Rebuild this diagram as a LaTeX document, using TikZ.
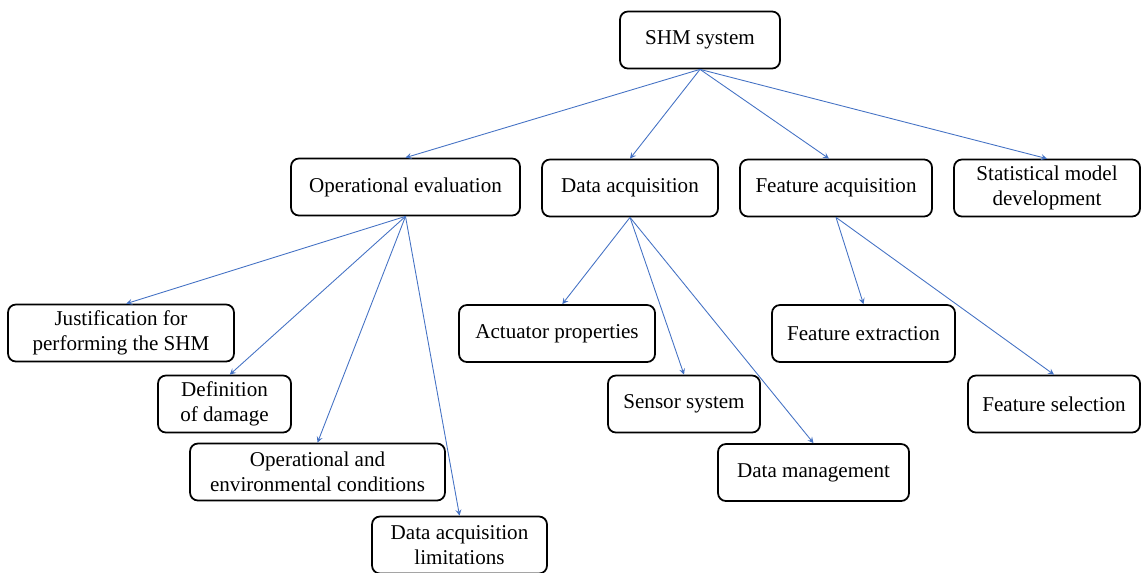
\documentclass[tikz,border=0pt,12pt]{standalone}
\usepackage{fontspec}
\setmainfont{Liberation Serif}
\usepackage{xcolor}
\usepackage{tikz}
\usetikzlibrary{shapes,arrows,positioning,calc}

\definecolor{linkblue}{RGB}{68,114,196}

\begin{document}
\begin{tikzpicture}[
  x=0.02cm, y=-0.02cm,
  box/.style={draw, rectangle, rounded corners=4.5pt, line width=1pt, align=center,
              inner sep=0pt, font=\fontsize{12}{14.5}\selectfont},
  top/.style={box, minimum height=1.14cm},
  ptr/.style={->, >=stealth, line width=0.5pt, linkblue}
]
\useasboundingbox (0,0) rectangle (1141,572);

% Root
\node[top, minimum width=3.2cm] (shm) at (700,40) {SHM system};

% Level 1
\node[top, minimum width=4.58cm] (opeval) at (405.5,187) {Operational evaluation};
\node[top, minimum width=3.52cm] (dataacq) at (630,188) {Data acquisition};
\node[top, minimum width=3.84cm] (featacq) at (836,188) {Feature acquisition};
\node[top, minimum width=3.72cm] (statmod) at (1047,188) {Statistical model\\development};

% Level 2 - operational evaluation
\node[top, minimum width=4.52cm] (justif) at (121,333) {Justification for\\performing the SHM};
\node[top, minimum width=2.66cm] (damage) at (224.5,404) {Definition\\of damage};
\node[top, minimum width=5.1cm] (openv) at (317.5,472) {Operational and\\environmental conditions};
\node[top, minimum width=3.5cm] (limits) at (459.5,545) {Data acquisition\\limitations};

% Level 2 - data acquisition
\node[top, minimum width=3.92cm] (actuator) at (557,333.5) {Actuator properties};
\node[top, minimum width=3.04cm] (sensor) at (684,404) {Sensor system};
\node[top, minimum width=3.82cm] (datamgmt) at (813.5,472.5) {Data management};

% Level 2 - feature acquisition
\node[top, minimum width=3.66cm] (featext) at (863.5,333.5) {Feature extraction};
\node[top, minimum width=3.44cm] (featsel) at (1054,404) {Feature selection};

% Root to level 1
\draw[ptr] (shm.south) -- (opeval.north);
\draw[ptr] (shm.south) -- (dataacq.north);
\draw[ptr] (shm.south) -- ([xshift=-4]featacq.north);
\draw[ptr] (shm.south) -- (statmod.north);

% Level 1 to level 2
\draw[ptr] (opeval.south) -- ([xshift=3]justif.north);
\draw[ptr] (opeval.south) -- ([xshift=3]damage.north);
\draw[ptr] (opeval.south) -- (openv.north);
\draw[ptr] (opeval.south) -- (limits.north);

\draw[ptr] (dataacq.south) -- ([xshift=3]actuator.north);
\draw[ptr] (dataacq.south) -- (sensor.north);
\draw[ptr] (dataacq.south) -- (datamgmt.north);

\draw[ptr] (featacq.south) -- (featext.north);
\draw[ptr] (featacq.south) -- (featsel.north);
\end{tikzpicture}
\end{document}
